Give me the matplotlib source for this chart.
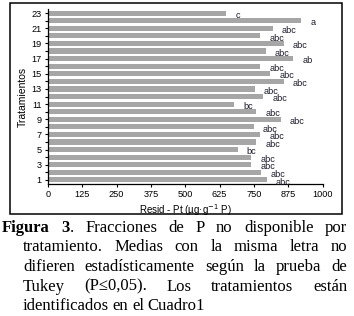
import matplotlib
matplotlib.use("Agg")
import matplotlib.pyplot as plt
from matplotlib.patches import Rectangle

# Data
tratamientos = list(range(1, 24))
resid_pt = [798, 777, 741, 741, 691, 759, 774, 749, 849, 759, 679, 784,
            753, 859, 810, 774, 893, 794, 858, 774, 820, 923, 650]
letras = ["abc", "abc", "abc", "abc", "bc", "abc", "abc", "abc", "abc", "abc", "bc", "abc",
          "abc", "abc", "abc", "abc", "ab", "abc", "abc", "abc", "abc", "a", "c"]
x_ticks = [0, 125, 250, 375, 500, 625, 750, 875, 1000]

W, H = 354, 316
fig = plt.figure(figsize=(W / 100, H / 100), dpi=100)

def fx(px):
    return px / W

def fy(py):
    return 1 - py / H

ax = fig.add_axes([fx(48), fy(184), fx(322.5) - fx(48), fy(9) - fy(184)])
plt.rcParams['font.family'] = ['Liberation Sans', 'DejaVu Sans']

ax.barh(tratamientos, resid_pt, height=0.68, color="#a6a6a6")
for t, v, l in zip(tratamientos, resid_pt, letras):
    ax.annotate(l, (v, t), xytext=(6.5, -1.6), textcoords="offset points",
                ha="left", va="center", fontsize=6.6, family="Liberation Sans", color="#1a1a2a")

ax.set_xlim(0, 1000)
ax.set_ylim(0.45, 23.55)
ax.set_xticks(x_ticks)
ax.set_xticklabels([str(v) for v in x_ticks], fontsize=6.6, family="Liberation Sans")
ax.set_yticks(tratamientos[::2])
ax.set_yticklabels([str(v) for v in tratamientos[::2]], fontsize=6.6, family="Liberation Sans")
ax.set_yticks(tratamientos[1::2], minor=True)
ax.tick_params(axis="both", which="both", length=2.5, width=0.8, pad=2)
for s in ["top", "right"]:
    ax.spines[s].set_visible(False)
for s in ["left", "bottom"]:
    ax.spines[s].set_linewidth(0.9)
ax.set_xlabel("Resid - Pt (µg·g$^{-1}$ P)", fontsize=7, family="Liberation Sans", labelpad=2)
ax.set_ylabel("Tratamientos", fontsize=7.5, family="Liberation Sans", labelpad=3)

# frame around the chart
fig.patches.append(Rectangle((fx(10), fy(214)), fx(342) - fx(10), fy(3) - fy(214),
                             transform=fig.transFigure, fill=False, lw=1.1, ec="black"))

# justified caption
cap_lines = [
    [[("Figura", "bold")], [("3", "bold"), (".", "normal")], [("Fracciones", "normal")],
     [("de", "normal")], [("P", "normal")], [("no", "normal")], [("disponible", "normal")],
     [("por", "normal")]],
    [[(w, "normal")] for w in "tratamiento. Medias con la misma letra no".split()],
    [[(w, "normal")] for w in "difieren estadísticamente según la prueba de".split()],
    [[(w, "normal")] for w in "Tukey (P≤0,05). Los tratamientos están".split()],
    [[(w, "normal")] for w in "identificados en el Cuadro1".split()],
]
x_starts = [2, 23, 23, 23, 23]
x_end = 347
y0, dy = 227.5, 19.7
cap_size = 12

renderer = fig.canvas.get_renderer()
for i, line in enumerate(cap_lines):
    y = fy(y0 + i * dy)
    # measure words
    words = []
    for tok in line:
        pieces = []
        wsum = 0
        for txt, wt in tok:
            t = fig.text(0, y, txt, fontsize=cap_size, family="Liberation Serif",
                         weight=wt, va="center", ha="left")
            bb = t.get_window_extent(renderer)
            pieces.append((t, bb.width))
            wsum += bb.width
        words.append((pieces, wsum))
    total = sum(w for _, w in words)
    if i < len(cap_lines) - 1:
        gap = (x_end - x_starts[i] - total) / (len(words) - 1)
    else:
        gap = 3.6
    x = x_starts[i]
    for pieces, wsum in words:
        xx = x
        for t, w in pieces:
            t.set_x(fx(xx))
            xx += w
        x += wsum + gap

fig.savefig("out.png", dpi=100)
